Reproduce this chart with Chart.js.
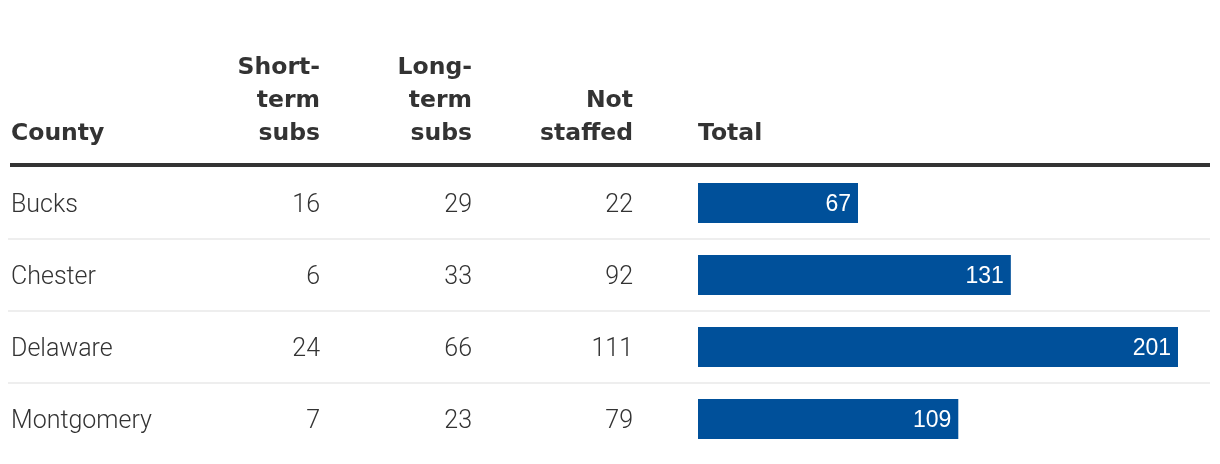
<!DOCTYPE html>
<html>
<head>
<meta charset="utf-8">
<script src="https://cdn.jsdelivr.net/npm/chart.js@4.4.1/dist/chart.umd.min.js"></script>
<style>
html,body{margin:0;padding:0;background:#fff;}
#wrap{width:1220px;height:464px;}
</style>
</head>
<body>
<div id="wrap"><canvas id="c" width="1220" height="464"></canvas></div>
<script>
const counties = ["Bucks", "Chester", "Delaware", "Montgomery"];
const shortTermSubs = [16, 6, 24, 7];
const longTermSubs = [29, 33, 66, 23];
const notStaffed = [22, 92, 111, 79];
const totals = [67, 131, 201, 109];
const headers = {
  county: ["County"],
  shortTerm: ["Short-", "term", "subs"],
  longTerm: ["Long-", "term", "subs"],
  notStaffed: ["Not", "staffed"],
  total: ["Total"]
};

const TEXT = "#333333";
const BAR = "#00509a";
const HFONT = "bold 23.5px 'DejaVu Sans', Roboto, sans-serif";
const BFONT = "300 25px Roboto, 'Open Sans', sans-serif";

const tablePlugin = {
  id: "tablePlugin",
  beforeDatasetsDraw(chart) {
    const ctx = chart.ctx;
    const y = chart.scales.y;
    const area = chart.chartArea;
    ctx.save();
    ctx.strokeStyle = "#e8e8e8";
    ctx.lineWidth = 1.5;
    for (let i = 0; i < counties.length - 1; i++) {
      const yy = (y.getPixelForValue(i) + y.getPixelForValue(i + 1)) / 2;
      ctx.beginPath();
      ctx.moveTo(8, yy);
      ctx.lineTo(1210, yy);
      ctx.stroke();
    }
    ctx.fillStyle = "#333333";
    ctx.fillRect(10, area.top - 4, 1200, 4);
    ctx.restore();
  },
  afterDatasetsDraw(chart) {
    const ctx = chart.ctx;
    const y = chart.scales.y;
    const x = chart.scales.x;
    const area = chart.chartArea;
    ctx.save();
    ctx.fillStyle = TEXT;
    ctx.font = HFONT;
    ctx.textBaseline = "alphabetic";
    const baseY = 140, lh = 33;
    function drawHeader(lines, xx, align) {
      ctx.textAlign = align;
      const n = lines.length;
      lines.forEach((t, k) => ctx.fillText(t, xx, baseY - (n - 1 - k) * lh));
    }
    drawHeader(headers.county, 11, "left");
    drawHeader(headers.shortTerm, 320, "right");
    drawHeader(headers.longTerm, 472, "right");
    drawHeader(headers.notStaffed, 633, "right");
    drawHeader(headers.total, area.left, "left");
    ctx.font = BFONT;
    ctx.textBaseline = "middle";
    counties.forEach((c, i) => {
      const yy = y.getPixelForValue(i) + 2.5;
      ctx.textAlign = "left";
      ctx.fillText(c, 11, yy);
      ctx.textAlign = "right";
      ctx.fillText(String(shortTermSubs[i]), 320, yy);
      ctx.fillText(String(longTermSubs[i]), 472, yy);
      ctx.fillText(String(notStaffed[i]), 633, yy);
    });
    ctx.fillStyle = "#ffffff";
    ctx.font = "23px 'Liberation Sans', Arial, sans-serif";
    ctx.textAlign = "right";
    totals.forEach((v, i) => {
      ctx.fillText(String(v), x.getPixelForValue(v) - 7, y.getPixelForValue(i) + 1.5);
    });
    ctx.restore();
  }
};

new Chart(document.getElementById("c"), {
  type: "bar",
  data: {
    labels: counties,
    datasets: [{
      data: totals,
      backgroundColor: BAR,
      borderWidth: 0,
      barPercentage: 0.555,
      categoryPercentage: 1.0
    }]
  },
  options: {
    indexAxis: "y",
    responsive: false,
    animation: false,
    events: [],
    layout: { padding: { left: 698, right: 10, top: 167, bottom: 9 } },
    plugins: { legend: { display: false }, tooltip: { enabled: false } },
    scales: {
      x: { display: false, min: 0, max: 214.4 },
      y: { display: false, offset: true }
    }
  },
  plugins: [tablePlugin]
});
</script>
</body>
</html>
